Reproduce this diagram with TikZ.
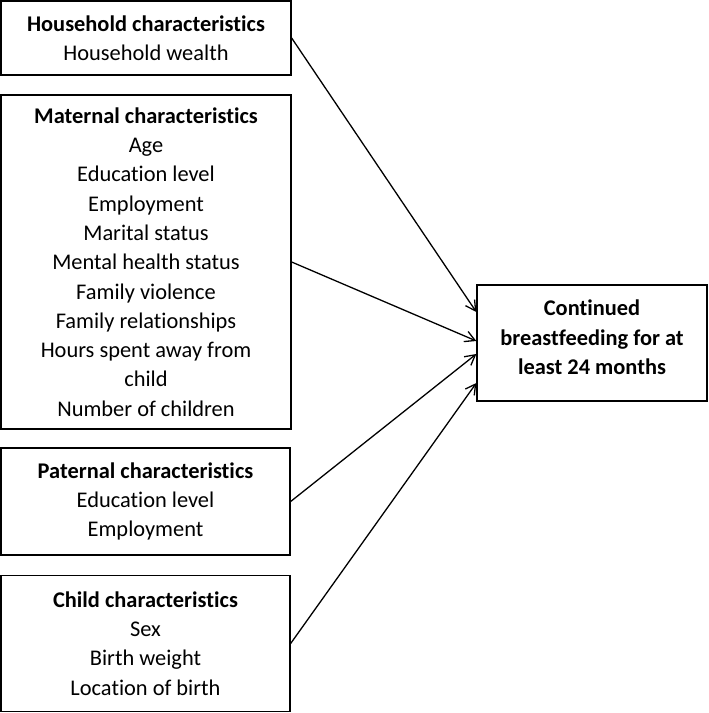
\documentclass[tikz,border=0pt]{standalone}
\usepackage{fontspec}
\setmainfont{Carlito}[Ligatures=NoCommon]
\usetikzlibrary{arrows.meta,calc}
\begin{document}
\begin{tikzpicture}[x=1bp,y=-1bp,
 box/.style={draw,line width=1.3bp,rectangle,inner sep=0pt,align=center,
   font=\fontsize{22.4bp}{29.3bp}\selectfont},
 link/.style={line width=1.3bp,-{Straight Barb[length=10bp,width=11bp]}}]
\useasboundingbox (0,0) rectangle (709,713);
\node[box,minimum width=290bp,minimum height=74bp] (hh) at (146,38)
  {\textbf{Household characteristics}\\Household wealth};
\node[box,minimum width=290bp,minimum height=334bp] (mat) at (146,262)
  {\textbf{Maternal characteristics}\\Age\\Education level\\Employment\\Marital status\\Mental health status\\Family violence\\Family relationships\\Hours spent away from\\child\\Number of children};
\node[box,minimum width=289bp,minimum height=107bp] (pat) at (145.5,501.5)
  {\textbf{Paternal characteristics}\\Education level\\Employment};
\node[box,minimum width=289bp,minimum height=136bp] (chi) at (145.5,643.5)
  {\textbf{Child characteristics}\\Sex\\Birth weight\\Location of birth};
\node[box,minimum width=230bp,minimum height=116bp,font=\bfseries\fontsize{22.4bp}{29.3bp}\selectfont] (tgt) at (592,343)
  {Continued\\breastfeeding for at\\least 24 months\\[-18bp]\mbox{}};
\coordinate (t1) at ($(tgt.west)+(0,-31)$);
\coordinate (t2) at ($(tgt.west)+(0,-2)$);
\coordinate (t3) at ($(tgt.west)+(0,11)$);
\coordinate (t4) at ($(tgt.west)+(0,40)$);
\draw[link] (hh.east) -- (t1);
\draw[link] (mat.east) -- (t2);
\draw[link] (pat.east) -- (t3);
\draw[link] (chi.east) -- (t4);
\end{tikzpicture}
\end{document}
